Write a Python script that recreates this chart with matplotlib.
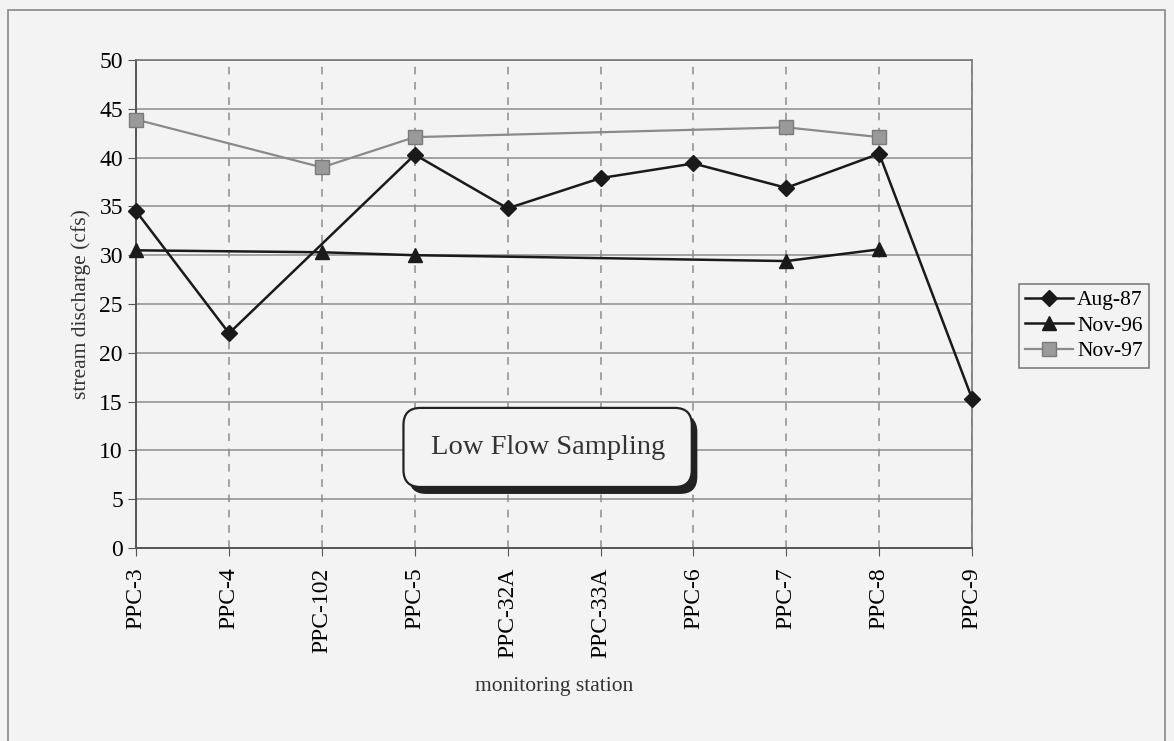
import numpy as np
import matplotlib
matplotlib.use("Agg")
import matplotlib.pyplot as plt
from matplotlib.patches import Rectangle
import matplotlib.patheffects as pe

plt.rcParams['font.family'] = ['Liberation Serif', 'DejaVu Serif']

stations = ["PPC-3", "PPC-4", "PPC-102", "PPC-5", "PPC-32A", "PPC-33A",
            "PPC-6", "PPC-7", "PPC-8", "PPC-9"]
aug87 = [34.5, 22.0, np.nan, 40.3, 34.8, 37.9, 39.4, 36.9, 40.4, 15.3]
nov96 = [30.5, np.nan, 30.3, 30.0, np.nan, np.nan, np.nan, 29.4, 30.6, np.nan]
nov97 = [43.9, np.nan, 39.0, 42.1, np.nan, np.nan, np.nan, 43.1, 42.1, np.nan]

bg = "#f3f3f3"
fig = plt.figure(figsize=(11.74, 7.41), dpi=100, facecolor=bg)
ax = fig.add_axes([0.116, 0.2605, 0.712, 0.6585])
ax.set_facecolor(bg)

x = np.arange(len(stations))

def draw(vals, **kw):
    v = np.array(vals, dtype=float)
    ok = ~np.isnan(v)
    return ax.plot(x[ok], v[ok], clip_on=False, **kw)[0]

l1 = draw(aug87, color="#1a1a1a", lw=1.8, marker="D", ms=8, mfc="#1a1a1a",
          mec="#1a1a1a", label="Aug-87", zorder=4)
l2 = draw(nov96, color="#1a1a1a", lw=1.8, marker="^", ms=10, mfc="#1a1a1a",
          mec="#1a1a1a", label="Nov-96", zorder=4)
l3 = draw(nov97, color="#8a8a8a", lw=1.6, marker="s", ms=10, mfc="#9a9a9a",
          mec="#7a7a7a", label="Nov-97", zorder=3)

ax.set_xlim(0, 9)
ax.set_ylim(0, 50)
ax.set_yticks(range(0, 51, 5))
ax.set_xticks(x)
ax.set_xticklabels(stations, rotation=90, fontsize=17)
ax.tick_params(axis="y", labelsize=17, direction="out", length=6, color="#555")
ax.tick_params(axis="x", direction="out", length=6, color="#555", pad=8)

ax.yaxis.grid(True, color="#8c8c8c", lw=1.1, ls="-")
ax.xaxis.grid(True, color="#8c8c8c", lw=1.1, ls=(0, (5, 5)))
ax.set_axisbelow(True)
for s in ["left", "bottom"]:
    ax.spines[s].set_color("#555")
    ax.spines[s].set_linewidth(1.4)
for s in ["top", "right"]:
    ax.spines[s].set_color("#777")
    ax.spines[s].set_linewidth(1.2)

ax.set_ylabel("stream discharge (cfs)", fontsize=15.5, color="#333", labelpad=6)
ax.set_xlabel("monitoring station", fontsize=15.5, color="#333", labelpad=14)

# text box with drop shadow
t = ax.text(4.43, 10.3, "Low Flow Sampling", fontsize=20.5, color="#333",
            ha="center", va="center", zorder=6,
            bbox=dict(boxstyle="round,pad=0.95,rounding_size=0.6", fc=bg,
                      ec="#222", lw=1.6))
t.get_bbox_patch().set_path_effects([
    pe.SimplePatchShadow(offset=(4, -5), shadow_rgbFace="#222", alpha=1),
    pe.Normal()])

leg = fig.legend(handles=[l1, l2, l3], loc="upper left",
                 bbox_to_anchor=(0.868, 0.617), fontsize=15.5, frameon=True,
                 fancybox=False, edgecolor="#555", facecolor=bg,
                 handlelength=2.2, handletextpad=0.2, borderpad=0.3,
                 labelspacing=0.25, borderaxespad=0)
leg.get_frame().set_linewidth(1.1)

fig.patches.append(Rectangle((0.007, -0.02), 0.985, 1.006, transform=fig.transFigure,
                             fill=False, ec="#888", lw=1.2))

fig.savefig("out.png", dpi=100, facecolor=bg)
